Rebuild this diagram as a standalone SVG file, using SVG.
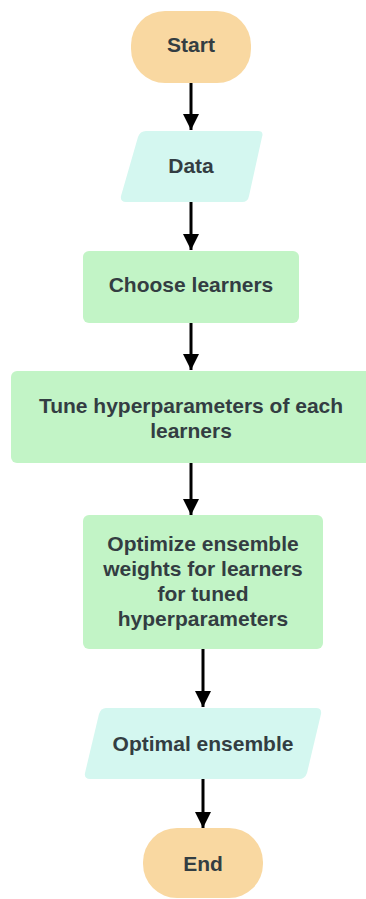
<svg xmlns="http://www.w3.org/2000/svg" width="366" height="899" viewBox="0 0 366 899">
<defs>
<marker id="arr" viewBox="0 0 16 22" refX="16" refY="11" markerWidth="16" markerHeight="22" markerUnits="userSpaceOnUse" orient="auto">
<path d="M0,3 L16,11 L0,19 Z" fill="#000"/>
</marker>
<style>
.t{font-family:"Liberation Sans",Arial,sans-serif;font-weight:bold;font-size:21px;fill:#333d42;text-anchor:middle;dominant-baseline:central}
.term{fill:#f9d8a1}
.io{fill:#d4f7f0}
.proc{fill:#c2f4c6}
.c{stroke:#000;stroke-width:3;fill:none;marker-end:url(#arr)}
</style>
</defs>
<rect width="366" height="899" fill="#fff"/>
<g id="connectors">
<line class="c" x1="191" y1="83" x2="191" y2="130"/>
<line class="c" x1="191" y1="202" x2="191" y2="250"/>
<line class="c" x1="191" y1="323" x2="191" y2="370"/>
<line class="c" x1="191" y1="463" x2="191" y2="515"/>
<line class="c" x1="203" y1="649" x2="203" y2="707"/>
<line class="c" x1="203" y1="779" x2="203" y2="828"/>
</g>
<g id="start">
<rect class="term" x="131" y="11" width="120" height="72" rx="34" ry="34"/>
<text class="t" x="191" y="44.5">Start</text>
</g>
<g id="data">
<path class="io" d="M146,131 L258,131 Q264,131 262,137 L249,196 Q248,202 242,202 L126,202 Q120,202 121,196 L138,137 Q140,131 146,131 Z"/>
<text class="t" x="191" y="165">Data</text>
</g>
<g id="choose">
<rect class="proc" x="83" y="251" width="216" height="72" rx="6"/>
<text class="t" x="191" y="284">Choose learners</text>
</g>
<g id="tune">
<rect class="proc" x="11" y="371" width="362" height="92" rx="6"/>
<text class="t" x="191" y="405.5">Tune hyperparameters of each</text>
<text class="t" x="191" y="430">learners</text>
</g>
<g id="optimize">
<rect class="proc" x="83" y="515" width="240" height="134" rx="6"/>
<text class="t" x="203" y="543">Optimize ensemble</text>
<text class="t" x="203" y="568">weights for learners</text>
<text class="t" x="203" y="593">for tuned</text>
<text class="t" x="203" y="618">hyperparameters</text>
</g>
<g id="optimal">
<path class="io" d="M106,708 L316,708 Q322,708 321,714 L307,773 Q305,779 299,779 L90,779 Q84,779 85,773 L99,714 Q101,708 106,708 Z"/>
<text class="t" x="203" y="743">Optimal ensemble</text>
</g>
<g id="end">
<rect class="term" x="143" y="828" width="120" height="70" rx="34" ry="34"/>
<text class="t" x="203" y="863">End</text>
</g>
</svg>
